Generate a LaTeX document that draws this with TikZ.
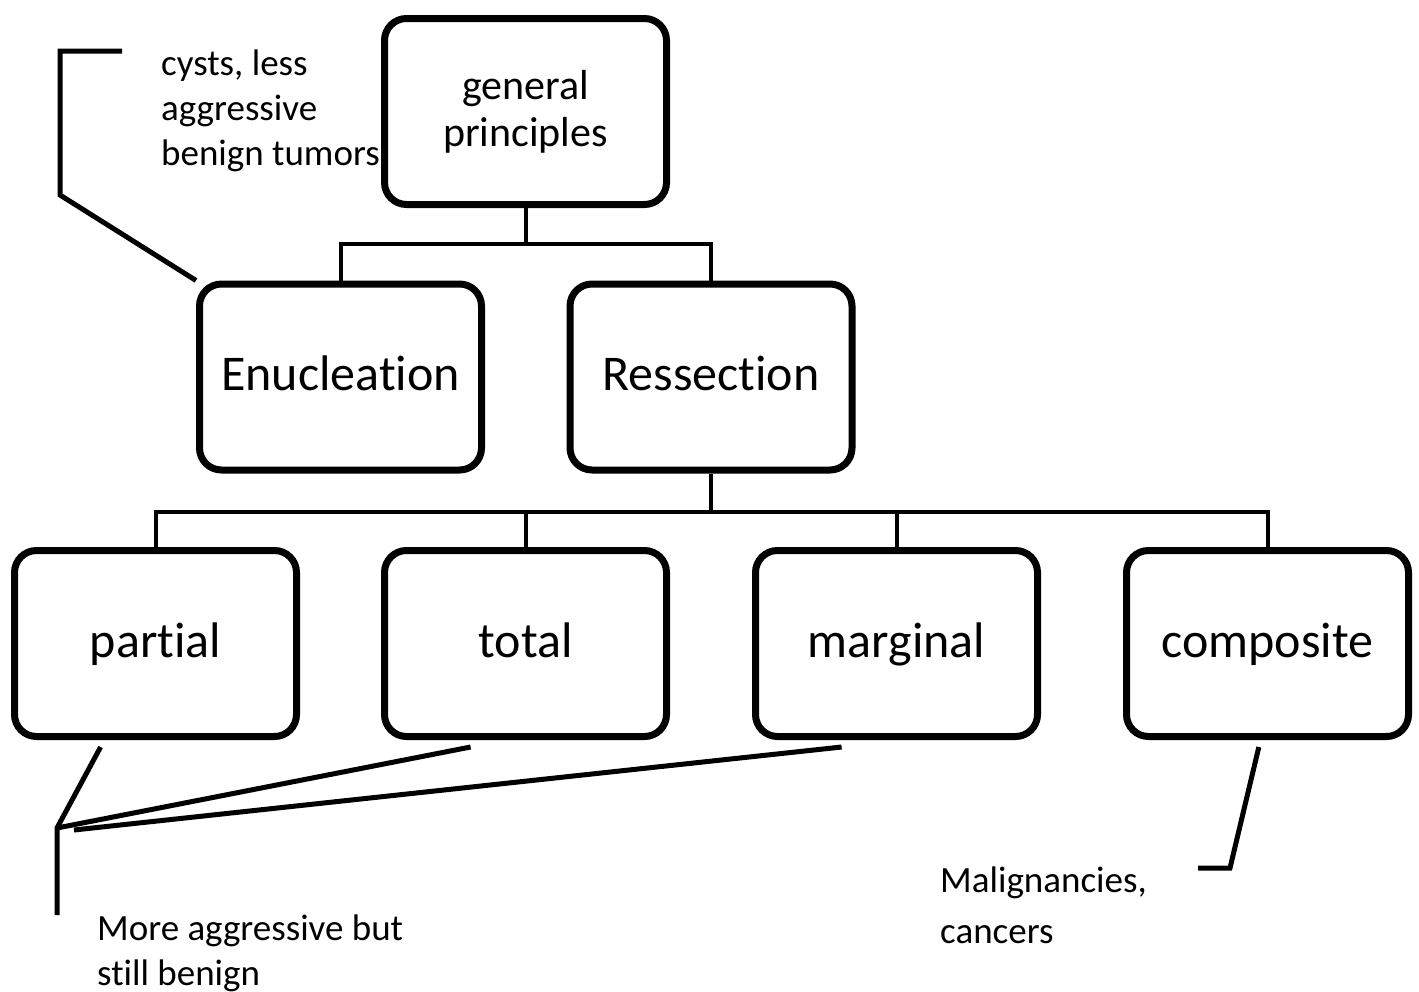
\documentclass[tikz,border=0pt]{standalone}
\usepackage{fontspec}
\setmainfont[RawFeature={-liga}]{Carlito}
\usetikzlibrary{shadows,calc}
\begin{document}
\begin{tikzpicture}[x=1pt,y=-1pt,
  boxbase/.style={draw=black, line width=7pt, rounded corners=22pt, fill=white,
    minimum width=282pt, minimum height=186pt, inner sep=0pt, align=center,
    drop shadow={opacity=0.25, shadow xshift=2pt, shadow yshift=-3pt}},
  box/.style={boxbase, font=\fontsize{50}{60}\selectfont, text height=37pt, text depth=10pt},
  gpbox/.style={boxbase, font=\fontsize{42}{47}\selectfont},
  conn/.style={draw=black, line width=4pt},
  callout/.style={draw=black, line width=5pt},
  lbl/.style={font=\fontsize{37}{45}\selectfont, align=left, inner sep=0pt},
  lblwide/.style={font=\fontsize{37}{51}\selectfont, align=left, inner sep=0pt}]
\fill[white] (0,0) rectangle (1419,991);
\useasboundingbox (0,0) rectangle (1419,991);

\node[gpbox] (gp) at (525.5,111.5) {general\\principles};
\node[box] (enuc) at (340.5,377) {Enucleation};
\node[box] (ress) at (711,377) {Ressection};
\node[box] (partial) at (155.5,643.5) {partial};
\node[box] (total) at (525.5,643.5) {total};
\node[box] (marginal) at (896.5,643.5) {marginal};
\node[box] (composite) at (1267.5,643.5) {composite};

% tree connectors
\coordinate (j1) at (525.5,244);
\coordinate (j2) at (711,512);
\draw[conn] (gp.south) -- (j1);
\draw[conn] (enuc.north) -- (enuc.north |- j1) -- (ress.north |- j1) -- (ress.north);
\draw[conn] (ress.south) -- (j2);
\draw[conn] (partial.north) -- (partial.north |- j2) -- (composite.north |- j2) -- (composite.north);
\draw[conn] (total.north) -- (total.north |- j2);
\draw[conn] (marginal.north) -- (marginal.north |- j2);

% callout for Enucleation
\coordinate (c1a) at (122,51);
\coordinate (c1b) at (60,51);
\coordinate (c1c) at (60,195);
\draw[callout] (c1a) -- (c1b) -- (c1c) -- (enuc.north west);
\node[lbl, anchor=base west] (t1) at (161,165) {cysts, less\\aggressive\\benign tumors};

% callout for partial/total/marginal
\coordinate (p1) at ($(partial.south west)!0.31!(partial.south east)+(0,7)$);
\coordinate (tt1) at ($(total.south west)!0.31!(total.south east)+(0,7)$);
\coordinate (m1) at ($(marginal.south west)!0.31!(marginal.south east)+(0,7)$);
\coordinate (c2) at (57,828);
\coordinate (c2m) at (74,830);
\coordinate (c2b) at (57,915);
\draw[callout] (p1) -- (c2) -- (c2b);
\draw[callout] (tt1) -- (c2);
\draw[callout] (m1) -- (c2m);
\node[lbl, anchor=base west] (t2) at (97,985) {More aggressive but\\still benign};

% callout for composite
\coordinate (co1) at ($(composite.south west)!0.47!(composite.south east)+(0,7)$);
\coordinate (c3a) at (1230,868);
\coordinate (c3b) at (1198,868);
\draw[callout] (co1) -- (c3a) -- (c3b);
\node[lblwide, anchor=base west] (t3) at (940,943) {Malignancies,\\cancers};
\end{tikzpicture}
\end{document}
